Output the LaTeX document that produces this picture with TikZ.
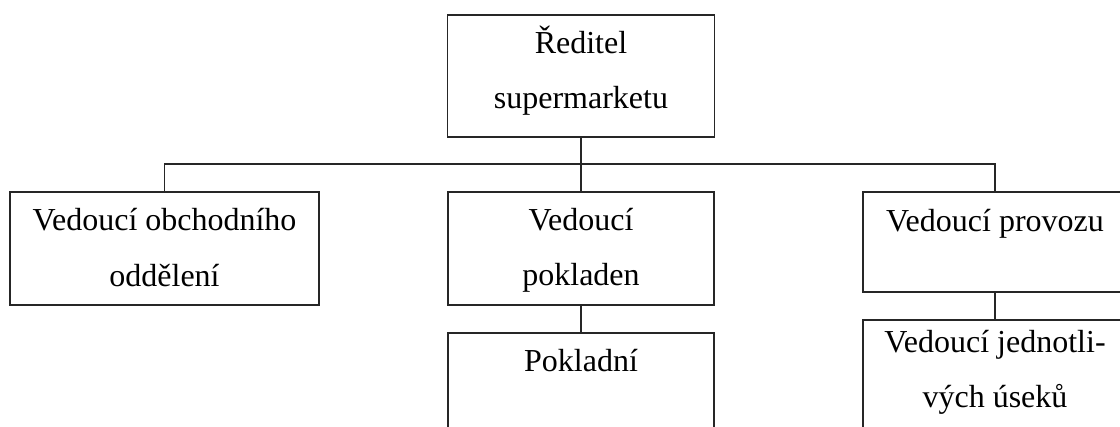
\documentclass[tikz,border=0pt]{standalone}
\usepackage{fontspec}
\setmainfont{Liberation Serif}
\begin{document}
\begin{tikzpicture}[x=1pt,y=-1pt,
  box/.style={draw=black!85,line width=1.4pt,rectangle,inner sep=0pt},
  lbl/.style={anchor=base,inner sep=0pt,font=\fontsize{32}{38}\selectfont,text=black},
  conn/.style={draw=black!85,line width=1.4pt}]
\useasboundingbox (0,0) rectangle (1120,427);
\clip (0,0) rectangle (1120,427);
\fill[white] (0,0) rectangle (1120,427);
% boxes
\node[box,minimum width=267pt,minimum height=122pt] (dir) at (581,76) {};
\node[box,minimum width=309pt,minimum height=113pt] (obch) at (164.5,248.5) {};
\node[box,minimum width=266pt,minimum height=113pt] (pokl) at (581,248.5) {};
\node[box,minimum width=266pt,minimum height=127pt] (pkd) at (581,396.5) {};
\node[box,minimum width=264pt,minimum height=100pt] (prov) at (995,242) {};
\node[box,minimum width=264pt,minimum height=140pt] (usek) at (995,390) {};
% texts
\node[lbl] (t1) at (581,54) {Ředitel};
\node[lbl] (t2) at (581,109) {supermarketu};
\node[lbl] (t3) at (164.5,231) {Vedoucí obchodního};
\node[lbl] (t4) at (164.5,287) {oddělení};
\node[lbl] (t5) at (581,231) {Vedoucí};
\node[lbl] (t6) at (581,286) {pokladen};
\node[lbl] (t7) at (581,372) {Pokladní};
\node[lbl] (t8) at (995,232) {Vedoucí provozu};
\node[lbl] (t9) at (995,353) {Vedoucí jednotli-};
\node[lbl] (t10) at (995,408) {vých úseků};
% connectors
\coordinate (bus) at (581,164);
\draw[conn] (dir.south) -- (pokl.north);
\draw[conn] (obch.north) -- (obch.north |- bus) -- (prov.north |- bus) -- (prov.north);
\draw[conn] (pokl.south) -- (pkd.north);
\draw[conn] (prov.south) -- (usek.north);
\end{tikzpicture}
\end{document}
